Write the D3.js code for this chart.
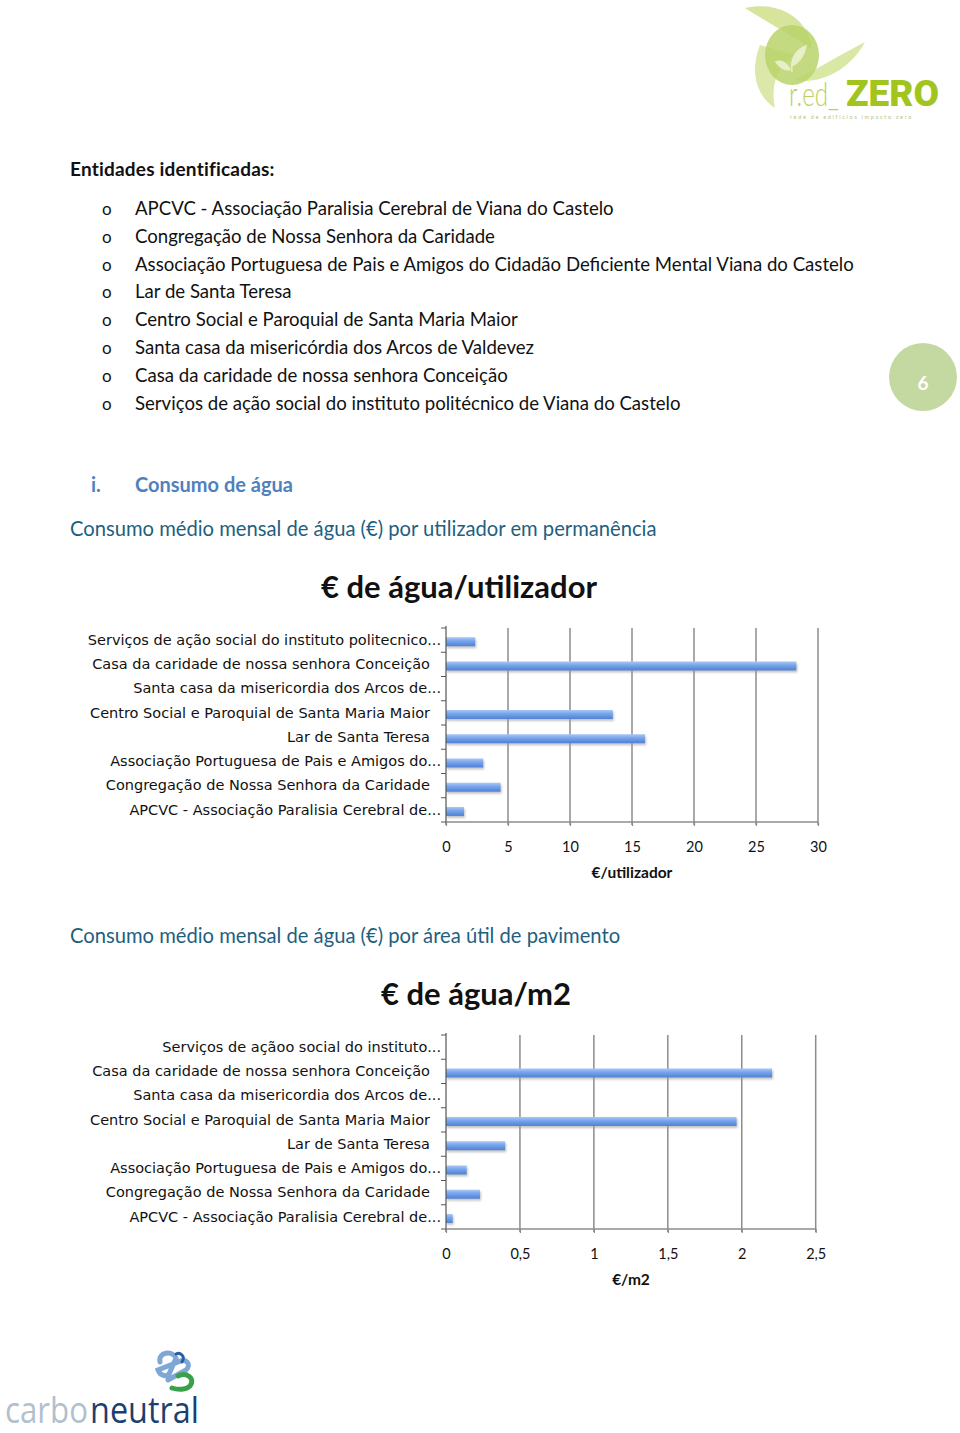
<!DOCTYPE html>
<html>
<head>
<meta charset="utf-8">
<script src="https://cdn.jsdelivr.net/npm/d3@7/dist/d3.min.js"></script>
<style>
  body { margin: 0; background: #fff; }
  svg { display: block; }
  .corpo { font-family: Lato, "Open Sans", sans-serif; }
  .cat { font-family: "DejaVu Sans", sans-serif; font-size: 14.5px; fill: #111; }
</style>
</head>
<body>
<div id="pagina"></div>
<script>
// Lista de entidades
var entidades = [
    "APCVC - Associação Paralisia Cerebral de Viana do Castelo",
    "Congregação de Nossa Senhora da Caridade",
    "Associação Portuguesa de Pais e Amigos do Cidadão Deficiente Mental Viana do Castelo",
    "Lar de Santa Teresa",
    "Centro Social e Paroquial de Santa Maria Maior",
    "Santa casa da misericórdia dos Arcos de Valdevez",
    "Casa da caridade de nossa senhora Conceição",
    "Serviços de ação social do instituto politécnico de Viana do Castelo"
];

// Gráfico 1 - € de água por utilizador (ordem do Excel: primeira categoria em baixo)
var categorias1 = [
    "APCVC - Associação Paralisia Cerebral de...",
    "Congregação de Nossa Senhora da Caridade",
    "Associação Portuguesa de Pais e Amigos do...",
    "Lar de Santa Teresa",
    "Centro Social e Paroquial de Santa Maria Maior",
    "Santa casa da misericordia dos Arcos de...",
    "Casa da caridade de nossa senhora Conceição",
    "Serviços de ação social do instituto politecnico..."
];
var valores1 = [1.45, 4.4, 3.0, 16.05, 13.45, 0, 28.25, 2.35];
var ticks1 = [0, 5, 10, 15, 20, 25, 30];

// Gráfico 2 - € de água por m2
var categorias2 = [
    "APCVC - Associação Paralisia Cerebral de...",
    "Congregação de Nossa Senhora da Caridade",
    "Associação Portuguesa de Pais e Amigos do...",
    "Lar de Santa Teresa",
    "Centro Social e Paroquial de Santa Maria Maior",
    "Santa casa da misericordia dos Arcos de...",
    "Casa da caridade de nossa senhora Conceição",
    "Serviços de açãoo social do instituto..."
];
var valores2 = [0.045, 0.23, 0.14, 0.40, 1.965, 0, 2.205, 0];
var ticks2 = [0, 0.5, 1, 1.5, 2, 2.5];

var svg = d3.select("#pagina")
    .append("svg")
    .attr("width", 960)
    .attr("height", 1433);

var defs = svg.append("defs");

// gradiente das barras
var grad = defs.append("linearGradient")
    .attr("id", "gradBarra")
    .attr("x1", 0).attr("y1", 0).attr("x2", 0).attr("y2", 1);
grad.append("stop").attr("offset", "0%").attr("stop-color", "#a9c8f6");
grad.append("stop").attr("offset", "40%").attr("stop-color", "#79a6ec");
grad.append("stop").attr("offset", "100%").attr("stop-color", "#4f80d4");

var sombra = defs.append("filter").attr("id", "sombra")
    .attr("x", "-10%").attr("y", "-50%").attr("width", "130%").attr("height", "250%");
sombra.append("feGaussianBlur").attr("stdDeviation", 1.2);

// texto esticado/encolhido na horizontal até uma largura dada
function textoLargura(g, txt, x, y, largura, attrs) {
    var t = g.append("text").attr("x", 0).attr("y", 0).text(txt);
    Object.keys(attrs).forEach(k => t.attr(k, attrs[k]));
    var w = t.node().getComputedTextLength();
    t.attr("transform", "translate(" + x + "," + y + ") scale(" + (largura / w) + ",1)");
    return t;
}

// ---------- Logótipo red_ZERO (canto superior direito) ----------
var logo = svg.append("g").attr("transform", "translate(740,0)");
logo.append("path")
    .attr("d", "M5,8 C40,0 70,20 72,50 C60,40 40,30 5,8 Z")
    .attr("fill", "#cfe08a").attr("opacity", 0.85);
logo.append("path")
    .attr("d", "M125,42 C110,70 80,85 55,80 C75,70 100,55 125,42 Z")
    .attr("fill", "#d5e59a").attr("opacity", 0.9);
logo.append("path")
    .attr("d", "M20,45 C10,70 15,95 35,108 C30,85 38,65 55,55 Z")
    .attr("fill", "#d8e6a0").attr("opacity", 0.9);
logo.append("ellipse")
    .attr("cx", 52).attr("cy", 55).attr("rx", 27).attr("ry", 30)
    .attr("fill", "#b9d36a").attr("opacity", 0.85);
logo.append("path")
    .attr("d", "M52,72 C50,60 55,50 66,46 C64,56 60,62 52,66 M50,70 C46,62 40,60 36,62 C40,68 45,70 50,70")
    .attr("fill", "#e6efc8").attr("stroke", "#e6efc8").attr("stroke-width", 1.5);
textoLargura(logo, "r.ed_", 49, 106, 50, {
    "font-family": "Lato, sans-serif", "font-weight": 300,
    "font-size": 34, "fill": "#b8d15e"
});
textoLargura(logo, "ZERO", 106, 106, 93, {
    "font-family": "Roboto, sans-serif", "font-weight": 900,
    "font-size": 36, "fill": "#a2c41f"
});
logo.append("text")
    .attr("x", 50).attr("y", 119)
    .attr("font-family", "Lato, sans-serif").attr("font-size", 5.5)
    .attr("fill", "#b3c48a").attr("letter-spacing", 1.7)
    .text("rede de edificios impacto zero");

// ---------- Texto ----------
var texto = svg.append("g").attr("class", "corpo");

texto.append("text")
    .attr("x", 70).attr("y", 176)
    .attr("font-size", 19).attr("font-weight", 700).attr("fill", "#111")
    .attr("letter-spacing", 0.2)
    .text("Entidades identificadas:");

texto.selectAll("text.item")
    .data(entidades)
    .enter()
    .append("text")
    .attr("class", "item")
    .attr("x", 135)
    .attr("y", (d, i) => 215 + i * 27.8)
    .attr("font-size", 18.6).attr("fill", "#111")
    .text(d => d);

texto.selectAll("text.bola")
    .data(entidades)
    .enter()
    .append("text")
    .attr("class", "bola")
    .attr("x", 102)
    .attr("y", (d, i) => 215 + i * 27.8)
    .attr("font-size", 17).attr("fill", "#111")
    .text("o");

// número da página
svg.append("circle")
    .attr("cx", 923).attr("cy", 377).attr("r", 34)
    .attr("fill", "#c4d9a2");
svg.append("text")
    .attr("x", 923).attr("y", 390)
    .attr("text-anchor", "middle")
    .attr("font-family", "Lato, sans-serif").attr("font-weight", 700)
    .attr("font-size", 19).attr("fill", "#fff")
    .text("6");

texto.append("text")
    .attr("x", 91).attr("y", 492)
    .attr("font-size", 20).attr("font-weight", 700).attr("fill", "#4f81bd")
    .text("i.");
texto.append("text")
    .attr("x", 135).attr("y", 492)
    .attr("font-size", 20).attr("font-weight", 700).attr("fill", "#4f81bd")
    .text("Consumo de água");

texto.append("text")
    .attr("x", 70).attr("y", 536)
    .attr("font-size", 20.2).attr("fill", "#1f5f80")
    .text("Consumo médio mensal de água (€) por utilizador em permanência");

texto.append("text")
    .attr("x", 70).attr("y", 943)
    .attr("font-size", 20.2).attr("fill", "#1f5f80")
    .text("Consumo médio mensal de água (€) por área útil de pavimento");

// ---------- Gráficos ----------
function grafico(cfg) {
    var g = svg.append("g");

    var x = d3.scaleLinear()
        .domain([0, cfg.max])
        .range([446, cfg.xMax]);

    var y = d3.scaleBand()
        .domain(cfg.categorias.slice().reverse())
        .range([cfg.top, cfg.top + 194]);

    var bw = y.bandwidth();

    g.append("text")
        .attr("x", cfg.tituloX).attr("y", cfg.top - 30)
        .attr("text-anchor", "middle")
        .attr("font-family", "Lato, sans-serif").attr("font-weight", 700)
        .attr("font-size", 31).attr("fill", "#111")
        .text(cfg.titulo);

    // linhas verticais da grelha
    g.selectAll("line.grelha")
        .data(cfg.ticks.slice(1))
        .enter()
        .append("line")
        .attr("x1", d => x(d)).attr("x2", d => x(d))
        .attr("y1", cfg.top).attr("y2", cfg.top + 197)
        .attr("stroke", "#8c8c8c").attr("stroke-width", 1.5);

    // eixo horizontal
    g.append("line")
        .attr("x1", 446).attr("x2", x(cfg.max))
        .attr("y1", cfg.top + 194).attr("y2", cfg.top + 194)
        .attr("stroke", "#8c8c8c").attr("stroke-width", 1.5);

    // barras: sombra + barra
    g.selectAll("rect.sombra")
        .data(cfg.valores)
        .enter()
        .append("rect")
        .attr("x", x(0) + 1)
        .attr("y", (d, i) => y(cfg.categorias[i]) + bw * 0.38 + 2)
        .attr("width", d => Math.max(0, x(d) - x(0)))
        .attr("height", bw * 0.37)
        .attr("fill", "#9a9a9a").attr("opacity", d => d > 0 ? 0.6 : 0)
        .attr("filter", "url(#sombra)");

    g.selectAll("rect.barra")
        .data(cfg.valores)
        .enter()
        .append("rect")
        .attr("x", x(0))
        .attr("y", (d, i) => y(cfg.categorias[i]) + bw * 0.38)
        .attr("width", d => x(d) - x(0))
        .attr("height", bw * 0.37)
        .attr("fill", "url(#gradBarra)");

    // eixo vertical com as categorias
    var eixoY = g.append("g")
        .attr("transform", "translate(446,0)")
        .call(d3.axisLeft(y).tickSize(0).tickPadding(16));
    eixoY.select(".domain").remove();
    eixoY.selectAll("text")
        .attr("class", "cat")
        .attr("font-family", null).attr("font-size", null)
        .attr("dx", d => d.endsWith("...") ? 11 : 0);

    g.append("line")
        .attr("x1", 446).attr("x2", 446)
        .attr("y1", cfg.top - 2).attr("y2", cfg.top + 197)
        .attr("stroke", "#555").attr("stroke-width", 1.2);

    // pequenas marcas entre categorias
    g.selectAll("line.marca")
        .data(d3.range(9))
        .enter()
        .append("line")
        .attr("x1", 441).attr("x2", 446)
        .attr("y1", i => cfg.top + i * bw).attr("y2", i => cfg.top + i * bw)
        .attr("stroke", "#555").attr("stroke-width", 1);

    // eixo x com os valores
    var eixoX = g.append("g")
        .attr("transform", "translate(0," + (cfg.top + 194) + ")")
        .call(d3.axisBottom(x)
            .tickValues(cfg.ticks)
            .tickSize(4)
            .tickPadding(16)
            .tickFormat(d => String(d).replace(".", ",")));
    eixoX.select(".domain").remove();
    eixoX.selectAll("line").attr("stroke", "#8c8c8c").attr("stroke-width", 1.2);
    eixoX.selectAll("text")
        .attr("font-family", "Lato, sans-serif")
        .attr("font-size", 14.5).attr("fill", "#111");

    g.append("text")
        .attr("x", cfg.eixoTituloX).attr("y", cfg.top + 250)
        .attr("text-anchor", "middle")
        .attr("font-family", "Lato, sans-serif").attr("font-weight", 700)
        .attr("font-size", 15.5).attr("fill", "#111")
        .text(cfg.eixoTitulo);
}

grafico({
    categorias: categorias1, valores: valores1, ticks: ticks1, max: 30,
    xMax: 818, top: 628, titulo: "€ de água/utilizador", tituloX: 459,
    eixoTitulo: "€/utilizador", eixoTituloX: 632
});

grafico({
    categorias: categorias2, valores: valores2, ticks: ticks2, max: 2.5,
    xMax: 815.7, top: 1035, titulo: "€ de água/m2", tituloX: 476,
    eixoTitulo: "€/m2", eixoTituloX: 631
});

// ---------- Logótipo carboneutral (canto inferior esquerdo) ----------
var cn = svg.append("g");
cn.append("path")
    .attr("d", "M160,1362 C158,1352 172,1350 176,1358 L170,1372 C168,1378 160,1376 158,1370 L178,1362 C186,1358 192,1364 186,1370 L168,1380")
    .attr("fill", "none").attr("stroke", "#7ea7d6").attr("stroke-width", 5)
    .attr("stroke-linecap", "round");
cn.append("path")
    .attr("d", "M178,1376 C186,1372 196,1378 190,1386 C186,1390 178,1390 172,1388")
    .attr("fill", "none").attr("stroke", "#3aa14a").attr("stroke-width", 5)
    .attr("stroke-linecap", "round");
cn.append("path")
    .attr("d", "M176,1354 C180,1352 186,1356 182,1362")
    .attr("fill", "none").attr("stroke", "#2a5fa6").attr("stroke-width", 3)
    .attr("stroke-linecap", "round");
textoLargura(cn, "carbo", 5, 1423, 83, {
    "font-family": "\"Open Sans\", sans-serif", "font-size": 36, "fill": "#b2bfcc"
});
textoLargura(cn, "neutral", 90, 1423, 109, {
    "font-family": "\"Open Sans\", sans-serif", "font-size": 36, "fill": "#1c3f6f"
});
</script>
</body>
</html>
